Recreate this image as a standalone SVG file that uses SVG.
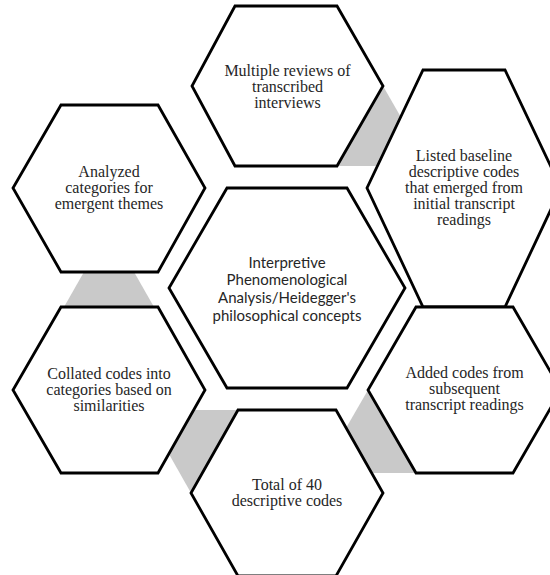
<svg xmlns="http://www.w3.org/2000/svg" width="550" height="575" viewBox="0 0 550 575">
<style>
.hex{fill:#ffffff;stroke:#000000;stroke-width:2.8;stroke-linejoin:miter}
.con{fill:#c9c9c9;stroke:none}
.t{font-family:"Liberation Serif","Times New Roman",serif;font-size:16px;fill:#262626;text-anchor:middle}
.c{font-family:Lato,"Liberation Sans",sans-serif;font-size:15px;fill:#262626;text-anchor:middle}
</style>
<rect width="550" height="575" fill="#ffffff"/>
<g id="connectors">
<polygon class="con" points="383,86 429,166 337,166"/>
<polygon class="con" points="109,228 154,307 64,307"/>
<polygon class="con" points="191,493 144,410 238,410"/>
<polygon class="con" points="368,390 416,473 320,473"/>
</g>
<g id="node-top">
<polygon class="hex" points="235,6 337,6 383,86 337,166 235,166 192,86"/>
<text class="t" x="287.5"><tspan x="287.5" y="76">Multiple reviews of</tspan><tspan x="287.5" y="92">transcribed</tspan><tspan x="287.5" y="108">interviews</tspan></text>
</g>
<g id="node-right-top">
<polygon class="hex" points="423,70 505,70 561,188 505,307 423,307 367,188"/>
<text class="t"><tspan x="464" y="160.5">Listed baseline</tspan><tspan x="464" y="176.5">descriptive codes</tspan><tspan x="464" y="192.5">that emerged from</tspan><tspan x="464" y="208.5">initial transcript</tspan><tspan x="464" y="224.5">readings</tspan></text>
</g>
<g id="node-right-bottom">
<polygon class="hex" points="416,307 513,307 561,390 513,473 416,473 368,390"/>
<text class="t"><tspan x="464.5" y="378">Added codes from</tspan><tspan x="464.5" y="394">subsequent</tspan><tspan x="464.5" y="410">transcript readings</tspan></text>
</g>
<g id="node-bottom">
<polygon class="hex" points="238,410 336,410 383,493 336,576 238,576 191,493"/>
<text class="t"><tspan x="287" y="489.5">Total of 40</tspan><tspan x="287" y="505.5">descriptive codes</tspan></text>
</g>
<g id="node-left-bottom">
<polygon class="hex" points="61,307 158,307 205,390 158,473 61,473 13,390"/>
<text class="t"><tspan x="109" y="378.5">Collated codes into</tspan><tspan x="109" y="394.5">categories based on</tspan><tspan x="109" y="410.5">similarities</tspan></text>
</g>
<g id="node-left-top">
<polygon class="hex" points="61,105 158,105 205,188 158,272 61,272 13,188"/>
<text class="t"><tspan x="109" y="177">Analyzed</tspan><tspan x="109" y="193">categories for</tspan><tspan x="109" y="209">emergent themes</tspan></text>
</g>
<g id="node-center">
<polygon class="hex" points="227,188 347,188 405,288 347,388 227,388 169,288"/>
<text class="c"><tspan x="287" y="267.5">Interpretive</tspan><tspan x="287" y="285.2">Phenomenological</tspan><tspan x="287" y="302.9">Analysis/Heidegger's</tspan><tspan x="287" y="320.6">philosophical concepts</tspan></text>
</g>
</svg>
